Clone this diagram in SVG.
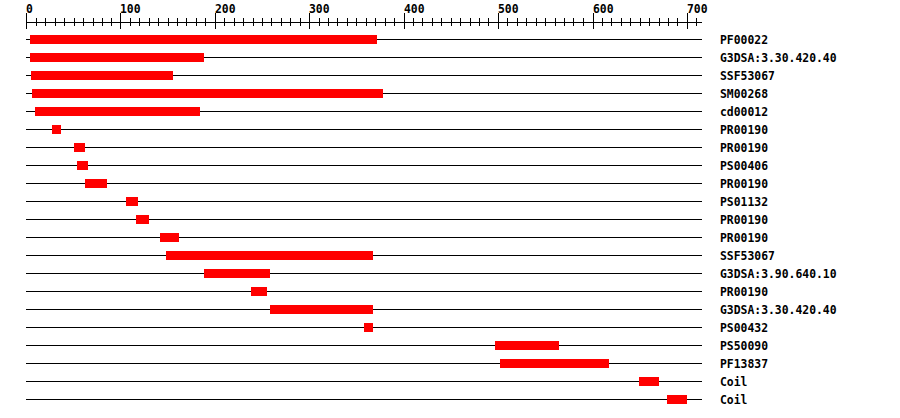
<svg xmlns="http://www.w3.org/2000/svg" width="900" height="418" viewBox="0 0 900 418">
<style>
text{font-family:"DejaVu Sans Mono","Liberation Mono",monospace;font-weight:bold;font-size:11.4px;fill:#000}
.ax{stroke:#000;stroke-width:1;fill:none;shape-rendering:crispEdges}
.rl{stroke:#000;stroke-width:1;shape-rendering:crispEdges}
.bar{fill:#ff0000;shape-rendering:crispEdges}
</style>
<rect width="900" height="418" fill="#fff"/>
<g id="axis">
<line class="ax" x1="26" y1="22.5" x2="702" y2="22.5"/>
<path class="ax" d="M26.5 13V29M120.5 13V29M215.5 13V29M309.5 13V29M404.5 13V29M498.5 13V29M593.5 13V29M687.5 13V29"/>
<path class="ax" d="M36.5 18V26M45.5 18V26M55.5 18V26M64.5 18V26M74.5 18V26M83.5 18V26M93.5 18V26M102.5 18V26M111.5 18V26M130.5 18V26M139.5 18V26M149.5 18V26M158.5 18V26M168.5 18V26M177.5 18V26M186.5 18V26M196.5 18V26M205.5 18V26M224.5 18V26M234.5 18V26M243.5 18V26M253.5 18V26M262.5 18V26M271.5 18V26M281.5 18V26M290.5 18V26M300.5 18V26M319.5 18V26M328.5 18V26M337.5 18V26M347.5 18V26M356.5 18V26M366.5 18V26M375.5 18V26M385.5 18V26M394.5 18V26M413.5 18V26M422.5 18V26M432.5 18V26M441.5 18V26M451.5 18V26M460.5 18V26M470.5 18V26M479.5 18V26M488.5 18V26M507.5 18V26M517.5 18V26M526.5 18V26M536.5 18V26M545.5 18V26M555.5 18V26M564.5 18V26M573.5 18V26M583.5 18V26M602.5 18V26M611.5 18V26M621.5 18V26M630.5 18V26M640.5 18V26M649.5 18V26M659.5 18V26M668.5 18V26M677.5 18V26M696.5 18V26"/>
<text x="26" y="12.5">0</text>
<text x="120" y="12.5">100</text>
<text x="215" y="12.5">200</text>
<text x="309" y="12.5">300</text>
<text x="404" y="12.5">400</text>
<text x="498" y="12.5">500</text>
<text x="593" y="12.5">600</text>
<text x="687" y="12.5">700</text>
</g>
<g id="connectors">
<line class="rl" x1="26" y1="39.5" x2="702" y2="39.5"/>
<line class="rl" x1="26" y1="57.5" x2="702" y2="57.5"/>
<line class="rl" x1="26" y1="75.5" x2="702" y2="75.5"/>
<line class="rl" x1="26" y1="93.5" x2="702" y2="93.5"/>
<line class="rl" x1="26" y1="111.5" x2="702" y2="111.5"/>
<line class="rl" x1="26" y1="129.5" x2="702" y2="129.5"/>
<line class="rl" x1="26" y1="147.5" x2="702" y2="147.5"/>
<line class="rl" x1="26" y1="165.5" x2="702" y2="165.5"/>
<line class="rl" x1="26" y1="183.5" x2="702" y2="183.5"/>
<line class="rl" x1="26" y1="201.5" x2="702" y2="201.5"/>
<line class="rl" x1="26" y1="219.5" x2="702" y2="219.5"/>
<line class="rl" x1="26" y1="237.5" x2="702" y2="237.5"/>
<line class="rl" x1="26" y1="255.5" x2="702" y2="255.5"/>
<line class="rl" x1="26" y1="273.5" x2="702" y2="273.5"/>
<line class="rl" x1="26" y1="291.5" x2="702" y2="291.5"/>
<line class="rl" x1="26" y1="309.5" x2="702" y2="309.5"/>
<line class="rl" x1="26" y1="327.5" x2="702" y2="327.5"/>
<line class="rl" x1="26" y1="345.5" x2="702" y2="345.5"/>
<line class="rl" x1="26" y1="363.5" x2="702" y2="363.5"/>
<line class="rl" x1="26" y1="381.5" x2="702" y2="381.5"/>
<line class="rl" x1="26" y1="399.5" x2="702" y2="399.5"/>
</g>
<g id="row1"><rect class="bar" x="30" y="35" width="347" height="9"/><text x="720" y="43.5">PF00022</text></g>
<g id="row2"><rect class="bar" x="30" y="53" width="174" height="9"/><text x="720" y="61.5">G3DSA:3.30.420.40</text></g>
<g id="row3"><rect class="bar" x="31" y="71" width="142" height="9"/><text x="720" y="79.5">SSF53067</text></g>
<g id="row4"><rect class="bar" x="32" y="89" width="351" height="9"/><text x="720" y="97.5">SM00268</text></g>
<g id="row5"><rect class="bar" x="35" y="107" width="165" height="9"/><text x="720" y="115.5">cd00012</text></g>
<g id="row6"><rect class="bar" x="52" y="125" width="9" height="9"/><text x="720" y="133.5">PR00190</text></g>
<g id="row7"><rect class="bar" x="74" y="143" width="11" height="9"/><text x="720" y="151.5">PR00190</text></g>
<g id="row8"><rect class="bar" x="77" y="161" width="11" height="9"/><text x="720" y="169.5">PS00406</text></g>
<g id="row9"><rect class="bar" x="85" y="179" width="22" height="9"/><text x="720" y="187.5">PR00190</text></g>
<g id="row10"><rect class="bar" x="126" y="197" width="12" height="9"/><text x="720" y="205.5">PS01132</text></g>
<g id="row11"><rect class="bar" x="136" y="215" width="13" height="9"/><text x="720" y="223.5">PR00190</text></g>
<g id="row12"><rect class="bar" x="160" y="233" width="19" height="9"/><text x="720" y="241.5">PR00190</text></g>
<g id="row13"><rect class="bar" x="166" y="251" width="207" height="9"/><text x="720" y="259.5">SSF53067</text></g>
<g id="row14"><rect class="bar" x="204" y="269" width="66" height="9"/><text x="720" y="277.5">G3DSA:3.90.640.10</text></g>
<g id="row15"><rect class="bar" x="251" y="287" width="16" height="9"/><text x="720" y="295.5">PR00190</text></g>
<g id="row16"><rect class="bar" x="270" y="305" width="103" height="9"/><text x="720" y="313.5">G3DSA:3.30.420.40</text></g>
<g id="row17"><rect class="bar" x="364" y="323" width="9" height="9"/><text x="720" y="331.5">PS00432</text></g>
<g id="row18"><rect class="bar" x="495" y="341" width="64" height="9"/><text x="720" y="349.5">PS50090</text></g>
<g id="row19"><rect class="bar" x="500" y="359" width="109" height="9"/><text x="720" y="367.5">PF13837</text></g>
<g id="row20"><rect class="bar" x="639" y="377" width="20" height="9"/><text x="720" y="385.5">Coil</text></g>
<g id="row21"><rect class="bar" x="667" y="395" width="20" height="9"/><text x="720" y="403.5">Coil</text></g>
</svg>
